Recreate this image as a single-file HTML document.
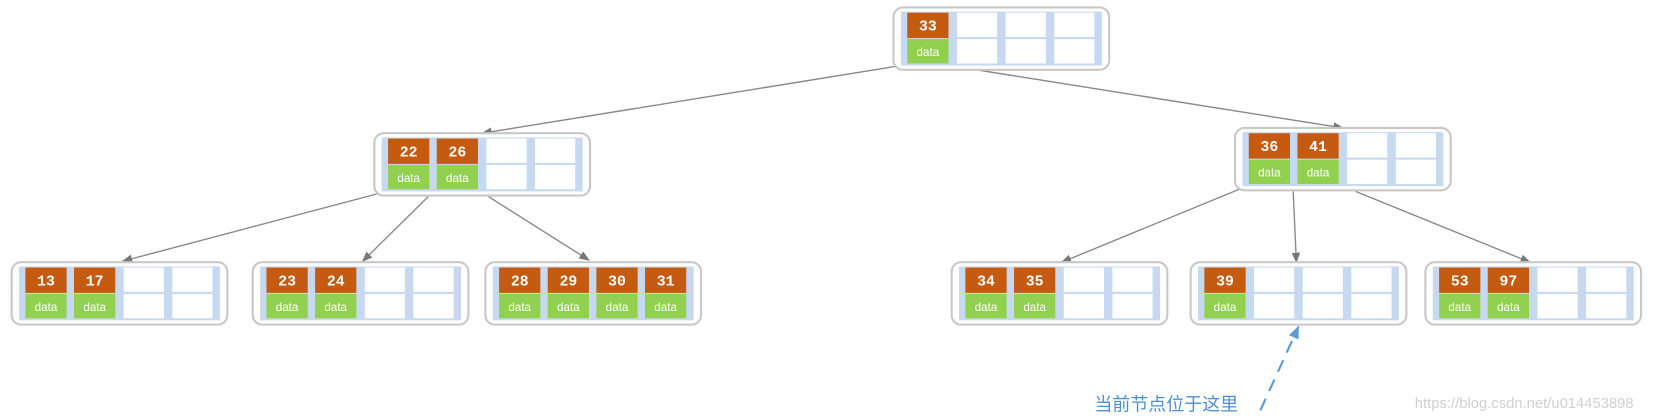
<!DOCTYPE html>
<html><head><meta charset="utf-8"><style>
html,body{margin:0;padding:0;background:#fff;width:1658px;height:420px;overflow:hidden}
svg{display:block}
</style></head><body>
<svg id="s" width="1658" height="420" viewBox="0 0 1568 397.2" xmlns="http://www.w3.org/2000/svg">
<defs>
<marker id="a" markerWidth="10" markerHeight="8" refX="9" refY="4" orient="auto" markerUnits="userSpaceOnUse"><path d="M0,0 L10,4 L0,8 z" fill="#777"/></marker>
<marker id="b" markerWidth="12" markerHeight="10" refX="11" refY="5" orient="auto" markerUnits="userSpaceOnUse"><path d="M0,0 L12,5 L0,10 z" fill="#5b9bd5"/></marker>
</defs>
<g stroke="#888" stroke-width="1.3" fill="none" marker-end="url(#a)">
<line x1="852" y1="62" x2="456" y2="126"/>
<line x1="898" y1="62" x2="1270" y2="121"/>
<line x1="358" y1="183" x2="116" y2="247"/>
<line x1="405" y1="186" x2="343" y2="247"/>
<line x1="462" y1="186" x2="557" y2="246"/>
<line x1="1172" y1="179" x2="1004" y2="248"/>
<line x1="1223" y1="181" x2="1226" y2="248"/>
<line x1="1282" y1="181" x2="1447" y2="248"/>
</g>
<line x1="1192" y1="388" x2="1228" y2="309" stroke="#5b9bd5" stroke-width="2" stroke-dasharray="12,8" marker-end="url(#b)"/>
<g id="nodes"></g>
<text x="1035" y="388" font-family="'Liberation Sans','Noto Sans CJK SC',sans-serif" font-size="17" fill="#4a8fd6">当前节点位于这里</text>
<text x="1338" y="386" font-family="'Liberation Sans',sans-serif" font-size="14" fill="#d0d0d0">https://blog.csdn.net/u014453898</text>
</svg>
<script>
var nodes=[[845,7,4,["33"]],[354,126,4,["22","26"]],[1168,121,4,["36","41"]],
[11,248,4,["13","17"]],[239,248,4,["23","24"]],[459,248,4,["28","29","30","31"]],
[900,248,4,["34","35"]],[1126,248,4,["39"]],[1348,248,4,["53","97"]]];
var h='';
nodes.forEach(function(n){var x=n[0],y=n[1],c=n[2],k=n[3],w=13+c*46-6+13;
h+='<rect x="'+x+'" y="'+y+'" width="'+w+'" height="59" rx="9" fill="#fff" stroke="#c8c8c8" stroke-width="2"/>';
h+='<rect x="'+(x+7)+'" y="'+(y+4)+'" width="'+(w-14)+'" height="51" fill="#c6d9f0"/>';
for(var i=0;i<c;i++){var cx=x+13+i*46;
if(i<k.length){
h+='<rect x="'+cx+'" y="'+(y+5)+'" width="39" height="24" fill="#c55a11"/>';
h+='<rect x="'+cx+'" y="'+(y+30)+'" width="39" height="23" fill="#92d050"/>';
h+='<text x="'+(cx+19.5)+'" y="'+(y+22)+'" text-anchor="middle" font-family="Liberation Mono,monospace" font-weight="bold" font-size="14" fill="#fff">'+k[i]+'</text>';
h+='<text x="'+(cx+19.5)+'" y="'+(y+46)+'" text-anchor="middle" font-family="Liberation Sans,sans-serif" font-size="11" fill="#fff">data</text>';
}else{
h+='<rect x="'+(cx+1)+'" y="'+(y+5)+'" width="38" height="23" fill="#fff"/>';
h+='<rect x="'+(cx+1)+'" y="'+(y+30)+'" width="38" height="23" fill="#fff"/>';
}}});
document.getElementById('nodes').innerHTML=h;
</script>
</body></html>
